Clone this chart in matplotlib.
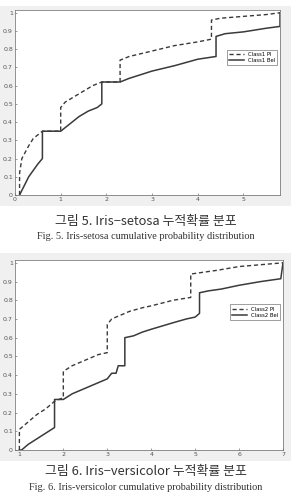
import matplotlib.pyplot as plt
import matplotlib.patches as mpatches
import matplotlib

matplotlib.rcParams['font.family'] = ['DejaVu Sans']

# Fig. 5 - Iris-setosa
x1_pl = [0.1, 0.1, 0.15, 0.3, 0.4, 0.5, 0.6, 1.0, 1.0, 1.1, 1.3, 1.5, 1.7, 1.9, 2.3, 2.3, 2.5, 3.0, 3.5, 4.0, 4.3, 4.3, 4.5, 5.0, 5.5, 5.8]
y1_pl = [0.0, 0.12, 0.2, 0.27, 0.31, 0.33, 0.35, 0.35, 0.48, 0.51, 0.54, 0.57, 0.60, 0.62, 0.62, 0.74, 0.76, 0.79, 0.82, 0.84, 0.855, 0.96, 0.97, 0.98, 0.99, 1.0]
x1_bel = [0.1, 0.2, 0.3, 0.5, 0.6, 0.6, 1.0, 1.2, 1.4, 1.6, 1.8, 1.9, 1.9, 2.3, 2.5, 3.0, 3.5, 4.0, 4.4, 4.4, 4.6, 5.0, 5.5, 5.8, 5.8]
y1_bel = [0.0, 0.05, 0.1, 0.17, 0.2, 0.35, 0.35, 0.39, 0.43, 0.46, 0.48, 0.5, 0.62, 0.62, 0.64, 0.68, 0.71, 0.745, 0.76, 0.87, 0.885, 0.895, 0.915, 0.925, 1.0]

# Fig. 6 - Iris-versicolor
x2_pl = [1.0, 1.0, 1.2, 1.4, 1.6, 1.8, 2.0, 2.0, 2.2, 2.5, 2.8, 3.0, 3.0, 3.1, 3.3, 3.5, 3.8, 4.0, 4.5, 4.9, 4.9, 5.2, 5.5, 6.0, 6.5, 7.0]
y2_pl = [0.0, 0.11, 0.15, 0.19, 0.22, 0.26, 0.28, 0.42, 0.45, 0.48, 0.51, 0.52, 0.67, 0.70, 0.72, 0.74, 0.76, 0.77, 0.80, 0.815, 0.94, 0.95, 0.96, 0.98, 0.99, 1.0]
x2_bel = [1.0, 1.05, 1.2, 1.4, 1.6, 1.8, 1.8, 2.0, 2.2, 2.5, 2.8, 3.0, 3.1, 3.2, 3.25, 3.4, 3.4, 3.6, 3.8, 4.0, 4.5, 4.8, 5.0, 5.1, 5.1, 5.3, 5.6, 6.0, 6.5, 6.95, 7.0]
y2_bel = [0.0, 0.0, 0.03, 0.06, 0.09, 0.12, 0.27, 0.27, 0.30, 0.33, 0.36, 0.38, 0.41, 0.41, 0.45, 0.45, 0.60, 0.61, 0.63, 0.645, 0.68, 0.70, 0.71, 0.73, 0.84, 0.85, 0.86, 0.88, 0.90, 0.915, 1.0]

panels = [
    dict(xpl=x1_pl, ypl=y1_pl, xbel=x1_bel, ybel=y1_bel, xlim=(0, 5.8), xticks=[0, 1, 2, 3, 4, 5],
         labels=['Class1 Pl', 'Class1 Bel'], rect=[15/291, 1-195/499, 265/291, 185/499],
         bg=(6, 206), legpos=(1.0, 0.8),
         kor='그림 5. Iris−setosa 누적확률 분포', eng='Fig. 5. Iris-setosa cumulative probability distribution',
         ky=222, ey=237),
    dict(xpl=x2_pl, ypl=y2_pl, xbel=x2_bel, ybel=y2_bel, xlim=(0.9, 7.0), xticks=[1, 2, 3, 4, 5, 6, 7],
         labels=['Class2 Pl', 'Class2 Bel'], rect=[15/291, 1-450/499, 268/291, 190/499],
         bg=(253, 461), legpos=(1.0, 0.78),
         kor='그림 6. Iris−versicolor 누적확률 분포', eng='Fig. 6. Iris-versicolor cumulative probability distribution',
         ky=472, ey=487),
]

fig = plt.figure(figsize=(2.91, 4.99), dpi=100)
H = 499.0

for p in panels:
    y0, y1 = p['bg']
    fig.patches.append(mpatches.Rectangle((0, 1-y1/H), 1, (y1-y0)/H, transform=fig.transFigure,
                                          facecolor='#f0f0f0', edgecolor='none', zorder=-5))
    ax = fig.add_axes(p['rect'])
    ax.set_zorder(2)
    ax.plot(p['xpl'], p['ypl'], color='#3a3a3a', lw=1.0, linestyle=(0, (3, 2)), label=p['labels'][0])
    ax.plot(p['xbel'], p['ybel'], color='#3a3a3a', lw=1.1, label=p['labels'][1])
    ax.set_xlim(p['xlim'])
    ax.set_ylim(0, 1.015)
    ax.set_xticks(p['xticks'])
    ax.set_xticklabels([str(t) for t in p['xticks']])
    ax.set_yticks([i/10 for i in range(11)])
    ax.set_yticklabels(['0', '0.1', '0.2', '0.3', '0.4', '0.5', '0.6', '0.7', '0.8', '0.9', '1'])
    ax.tick_params(direction='in', length=1.5, width=0.4, labelsize=4.5, colors='#555555', pad=1.5)
    for s in ax.spines.values():
        s.set_linewidth(0.5)
        s.set_color('#666666')
    leg = ax.legend(loc='upper right', bbox_to_anchor=p['legpos'], fontsize=3.8, frameon=True,
                    fancybox=False, handlelength=2.8, borderpad=0.4, labelspacing=0.3)
    leg.get_frame().set_edgecolor('#555555')
    leg.get_frame().set_linewidth(0.5)
    fig.text(0.5, 1-p['ky']/H, p['kor'], ha='center', va='center', fontsize=9.3,
             family=['Noto Sans CJK KR', 'DejaVu Sans'], color='#333333', zorder=3)
    fig.text(0.5, 1-p['ey']/H, p['eng'], ha='center', va='center', fontsize=7.4,
             family='Liberation Serif', color='#333333', zorder=3)

fig.savefig('out.png', dpi=100)
